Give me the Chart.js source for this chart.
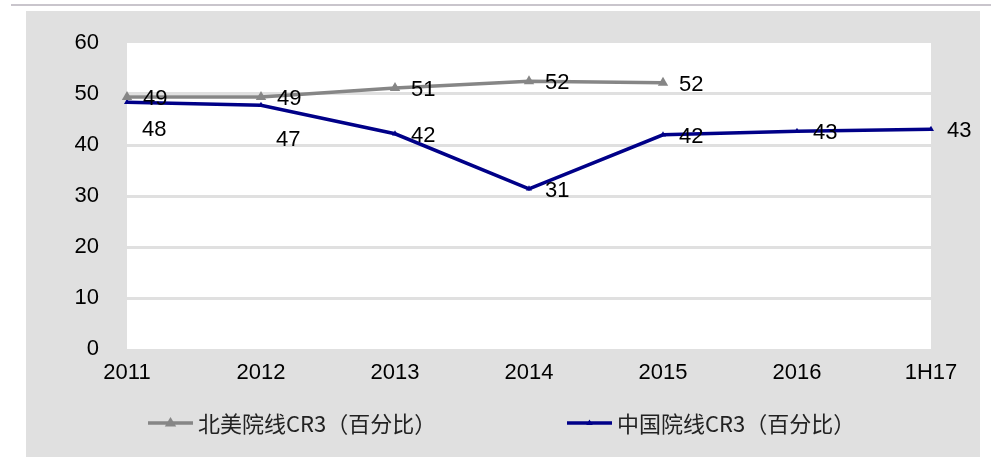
<!DOCTYPE html>
<html>
<head>
<meta charset="utf-8">
<script src="https://cdn.jsdelivr.net/npm/chart.js@4.4.1/dist/chart.umd.min.js"></script>
<style>
html,body{margin:0;padding:0;background:#fff;}
#wrap{width:991px;height:457px;position:relative;}
</style>
</head>
<body>
<div id="wrap"><canvas id="c" width="991" height="457"></canvas></div>
<script>
const categories = ['2011','2012','2013','2014','2015','2016','1H17'];
const naValues = [49.4, 49.4, 51.2, 52.5, 52.2, null, null];
const naLabels = ['49','49','51','52','52', null, null];
const cnValues = [48.4, 47.8, 42.2, 31.4, 42.0, 42.7, 43.1];
const cnLabels = ['48','47','42','31','42','43','43'];
const seriesNames = ['北美院线CR3（百分比）', '中国院线CR3（百分比）'];
const yTicks = [0, 10, 20, 30, 40, 50, 60];

const GRAY = '#868686';
const BLUE = '#000088';
const FONT = '"Liberation Sans", Arial, sans-serif';
const CJK = '"Noto Sans CJK SC", sans-serif';

const bgPlugin = {
  id: 'bg',
  beforeDraw(chart) {
    const ctx = chart.ctx, a = chart.chartArea;
    ctx.save();
    ctx.fillStyle = '#fff';
    ctx.fillRect(0, 0, chart.width, chart.height);
    ctx.fillStyle = '#c9c5cc';
    ctx.fillRect(11, 4, chart.width - 11, 2);
    ctx.fillStyle = '#e0e0e0';
    ctx.fillRect(26, 11, 954, chart.height - 11);
    ctx.fillStyle = '#fff';
    ctx.fillRect(a.left, a.top, a.right - a.left, a.bottom - a.top);
    ctx.restore();
  }
};

const labelPlugin = {
  id: 'vlabels',
  afterDatasetsDraw(chart) {
    const ctx = chart.ctx;
    ctx.save();
    ctx.font = '22px ' + FONT;
    ctx.fillStyle = '#000';
    ctx.textBaseline = 'middle';
    ctx.textAlign = 'left';
    chart.data.datasets.forEach((ds, di) => {
      const meta = chart.getDatasetMeta(di);
      const below = ds.belowIdx || [];
      meta.data.forEach((pt, i) => {
        const t = ds.valueLabels[i];
        if (t == null || ds.data[i] == null) return;
        if (below.includes(i)) {
          ctx.fillText(t, pt.x + 15, pt.y + (i === 0 ? 28 : 35));
        } else {
          ctx.fillText(t, pt.x + 16, pt.y + 2);
        }
      });
    });
    ctx.restore();
  }
};

const legendPlugin = {
  id: 'mylegend',
  afterDraw(chart) {
    const ctx = chart.ctx;
    const y = 423;
    const starts = [148, 567];
    ctx.save();
    ctx.font = '22px ' + CJK;
    ctx.textBaseline = 'middle';
    ctx.textAlign = 'left';
    chart.data.datasets.forEach((ds, di) => {
      const x0 = starts[di];
      ctx.strokeStyle = ds.borderColor;
      ctx.lineWidth = ds.borderWidth;
      ctx.beginPath(); ctx.moveTo(x0, y); ctx.lineTo(x0 + 45, y); ctx.stroke();
      const r = ds.pointRadius;
      const cx = x0 + 22.5;
      ctx.fillStyle = ds.borderColor;
      ctx.beginPath();
      ctx.moveTo(cx, y - r);
      ctx.lineTo(cx + r * 0.95, y + r * 0.6);
      ctx.lineTo(cx - r * 0.95, y + r * 0.6);
      ctx.closePath(); ctx.fill();
      ctx.fillStyle = '#222';
      ctx.fillText(ds.label, x0 + 50, y + 1);
    });
    ctx.restore();
  }
};

new Chart(document.getElementById('c'), {
  type: 'line',
  data: {
    labels: categories,
    datasets: [
      {
        label: seriesNames[0],
        data: naValues,
        valueLabels: naLabels,
        borderColor: GRAY,
        backgroundColor: GRAY,
        borderWidth: 3.5,
        pointStyle: 'triangle',
        pointRadius: 6,
        pointHoverRadius: 6,
        pointBorderWidth: 0,
        tension: 0,
        spanGaps: false
      },
      {
        label: seriesNames[1],
        data: cnValues,
        valueLabels: cnLabels,
        belowIdx: [0, 1],
        borderColor: BLUE,
        backgroundColor: BLUE,
        borderWidth: 3.5,
        pointStyle: 'triangle',
        pointRadius: 3.5,
        pointHoverRadius: 3.5,
        pointBorderWidth: 0,
        tension: 0
      }
    ]
  },
  options: {
    responsive: false,
    animation: false,
    events: [],
    layout: { padding: { left: 0, right: 60, top: 43, bottom: 68 } },
    plugins: { legend: { display: false }, tooltip: { enabled: false } },
    scales: {
      x: {
        offset: false,
        grid: { display: false, drawTicks: false },
        border: { display: false },
        ticks: { color: '#000', font: { size: 22, family: FONT }, padding: 11, maxRotation: 0, autoSkip: false },
        afterFit(s) { s.height = 40; }
      },
      y: {
        min: 0, max: 60,
        afterBuildTicks(s) { s.ticks = yTicks.map(v => ({ value: v })); },
        grid: {
          drawTicks: false,
          lineWidth: 3,
          color: (c) => (c.tick && (c.tick.value === 0 || c.tick.value === 60)) ? 'rgba(0,0,0,0)' : '#e0e0e0'
        },
        border: { display: false },
        ticks: { color: '#000', font: { size: 22, family: FONT }, padding: 28 },
        afterFit(s) { s.width = 127; }
      }
    }
  },
  plugins: [bgPlugin, labelPlugin, legendPlugin]
});
</script>
</body>
</html>
